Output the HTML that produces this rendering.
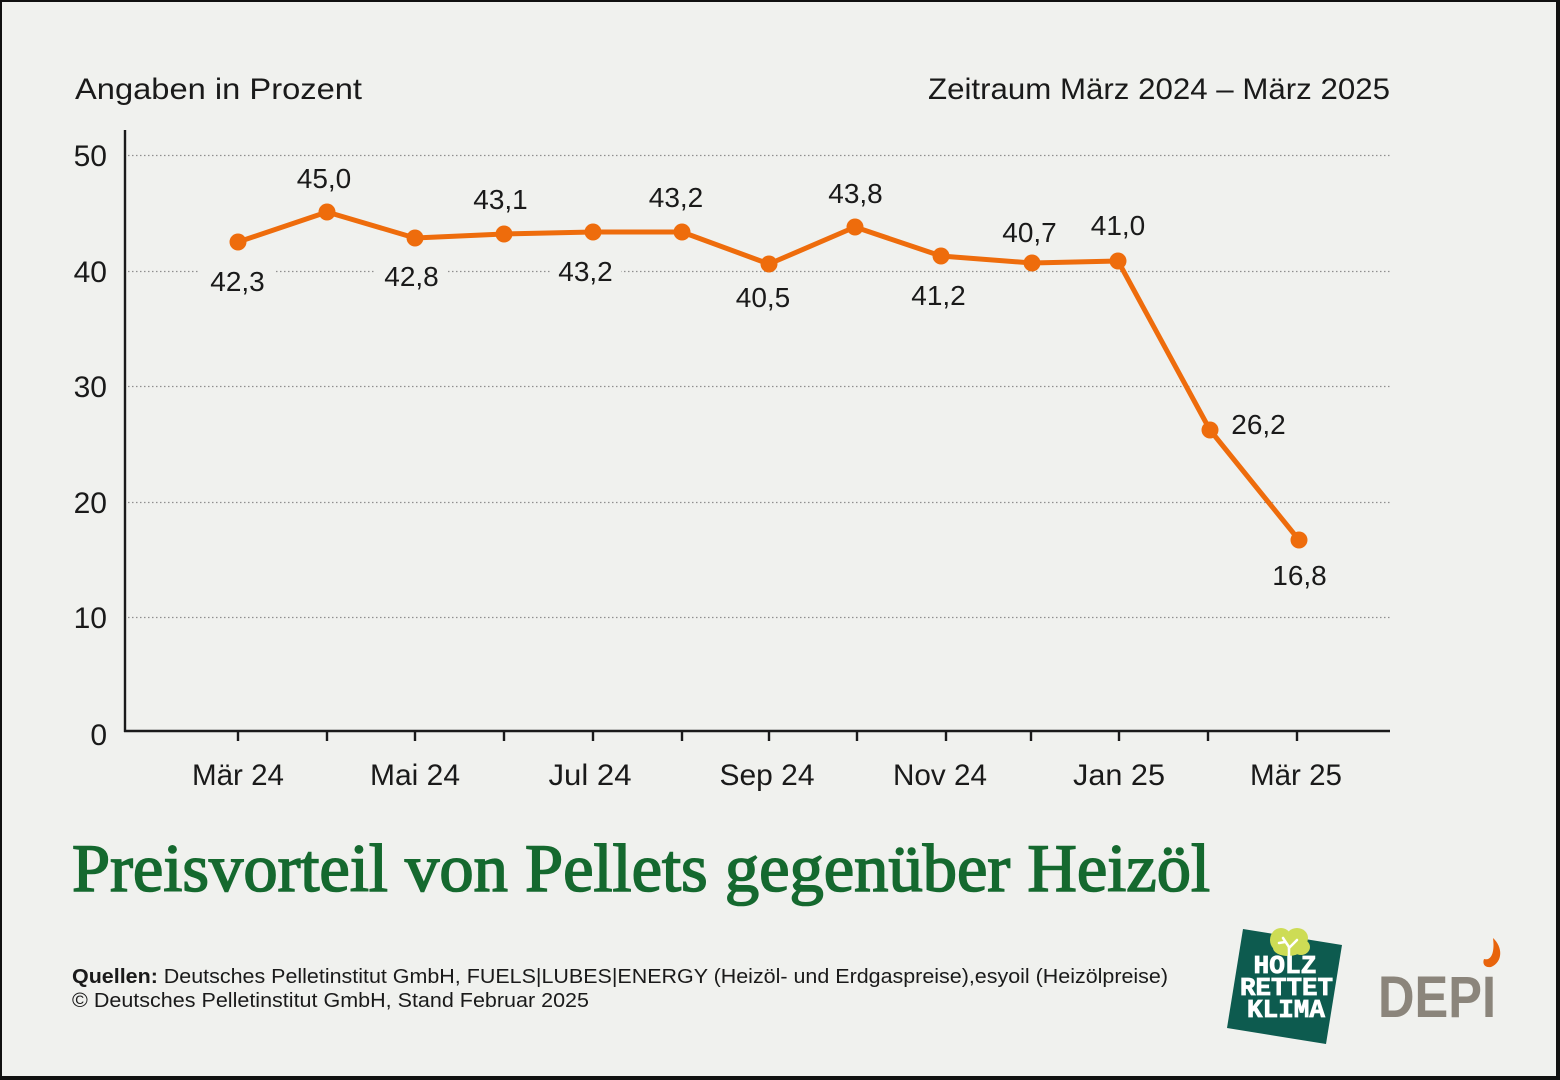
<!DOCTYPE html>
<html><head><meta charset="utf-8">
<style>
html,body{margin:0;padding:0;background:#f0f1ee;}
svg{display:block;}
</style></head>
<body>
<svg width="1560" height="1080" viewBox="0 0 1560 1080" xmlns="http://www.w3.org/2000/svg">
<rect x="0" y="0" width="1560" height="1080" fill="#f0f1ee"/>
<!-- border -->
<rect x="0" y="0" width="1560" height="2" fill="#111"/>
<rect x="0" y="0" width="2" height="1080" fill="#111"/>
<rect x="1556" y="0" width="4" height="1080" fill="#111"/>
<rect x="0" y="1076" width="1560" height="4" fill="#111"/>

<g font-family="Liberation Sans, sans-serif" fill="#1a1a1a">
<text x="75" y="99" font-size="30" textLength="287" lengthAdjust="spacingAndGlyphs">Angaben in Prozent</text>
<text x="928" y="99" font-size="30" textLength="462" lengthAdjust="spacingAndGlyphs">Zeitraum März 2024 – März 2025</text>
</g>

<!-- gridlines -->
<g stroke="#8f8f8f" stroke-width="1.2" stroke-dasharray="1.5 2.5">
<line x1="128" y1="155.5" x2="1391" y2="155.5"/>
<line x1="128" y1="271.5" x2="1391" y2="271.5"/>
<line x1="128" y1="386.5" x2="1391" y2="386.5"/>
<line x1="128" y1="502.5" x2="1391" y2="502.5"/>
<line x1="128" y1="617.5" x2="1391" y2="617.5"/>
</g>
<!-- label backgrounds breaking gridline -->
<g fill="#f0f1ee">
<rect x="200" y="263" width="75" height="17"/>
<rect x="376" y="263" width="71" height="17"/>
<rect x="550" y="263" width="71" height="17"/>
</g>

<!-- axes -->
<g stroke="#1a1a1a" stroke-width="2.4">
<line x1="125" y1="130" x2="125" y2="732"/>
<line x1="124" y1="731" x2="1390" y2="731"/>
<line x1="238" y1="731" x2="238" y2="741"/>
<line x1="327" y1="731" x2="327" y2="741"/>
<line x1="415" y1="731" x2="415" y2="741"/>
<line x1="504" y1="731" x2="504" y2="741"/>
<line x1="593" y1="731" x2="593" y2="741"/>
<line x1="682" y1="731" x2="682" y2="741"/>
<line x1="769" y1="731" x2="769" y2="741"/>
<line x1="857" y1="731" x2="857" y2="741"/>
<line x1="946" y1="731" x2="946" y2="741"/>
<line x1="1031" y1="731" x2="1031" y2="741"/>
<line x1="1119" y1="731" x2="1119" y2="741"/>
<line x1="1208" y1="731" x2="1208" y2="741"/>
<line x1="1297" y1="731" x2="1297" y2="741"/>
</g>

<!-- y tick labels -->
<g font-family="Liberation Sans, sans-serif" font-size="30" fill="#1a1a1a" text-anchor="end">
<text x="107" y="166">50</text>
<text x="107" y="282">40</text>
<text x="107" y="397">30</text>
<text x="107" y="513">20</text>
<text x="107" y="628">10</text>
<text x="107" y="745">0</text>
</g>

<!-- x labels -->
<g font-family="Liberation Sans, sans-serif" font-size="30" fill="#1a1a1a" text-anchor="middle">
<text x="238" y="785" textLength="92" lengthAdjust="spacingAndGlyphs">Mär 24</text>
<text x="415" y="785" textLength="90" lengthAdjust="spacingAndGlyphs">Mai 24</text>
<text x="590" y="785" textLength="83" lengthAdjust="spacingAndGlyphs">Jul 24</text>
<text x="767" y="785" textLength="95" lengthAdjust="spacingAndGlyphs">Sep 24</text>
<text x="940" y="785" textLength="94" lengthAdjust="spacingAndGlyphs">Nov 24</text>
<text x="1119" y="785" textLength="92" lengthAdjust="spacingAndGlyphs">Jan 25</text>
<text x="1296" y="785" textLength="92" lengthAdjust="spacingAndGlyphs">Mär 25</text>
</g>

<!-- series -->
<polyline fill="none" stroke="#ee6c0c" stroke-width="5" stroke-linejoin="round"
 points="238,242 327,212 415,238 504,234 593,232 682,232 769,264 855,227 941,256 1032,263 1118,261 1210,430 1299,540"/>
<g fill="#ee6c0c">
<circle cx="238" cy="242" r="8.5"/>
<circle cx="327" cy="212" r="8.5"/>
<circle cx="415" cy="238" r="8.5"/>
<circle cx="504" cy="234" r="8.5"/>
<circle cx="593" cy="232" r="8.5"/>
<circle cx="682" cy="232" r="8.5"/>
<circle cx="769" cy="264" r="8.5"/>
<circle cx="855" cy="227" r="8.5"/>
<circle cx="941" cy="256" r="8.5"/>
<circle cx="1032" cy="263" r="8.5"/>
<circle cx="1118" cy="261" r="8.5"/>
<circle cx="1210" cy="430" r="8.5"/>
<circle cx="1299" cy="540" r="8.5"/>
</g>

<!-- data labels -->
<g font-family="Liberation Sans, sans-serif" font-size="28" fill="#1a1a1a" text-anchor="middle">
<text x="237.5" y="291">42,3</text>
<text x="324" y="188">45,0</text>
<text x="411.5" y="286">42,8</text>
<text x="500.5" y="209">43,1</text>
<text x="585.5" y="281">43,2</text>
<text x="676" y="207">43,2</text>
<text x="763" y="307">40,5</text>
<text x="855.5" y="203">43,8</text>
<text x="938.5" y="305">41,2</text>
<text x="1029.5" y="242">40,7</text>
<text x="1118" y="235">41,0</text>
<text x="1258.5" y="434">26,2</text>
<text x="1299.5" y="585">16,8</text>
</g>

<!-- title -->
<text x="72" y="891" font-family="Liberation Serif, serif" font-size="68" fill="#15692f" stroke="#15692f" stroke-width="1.6" textLength="1138" lengthAdjust="spacingAndGlyphs">Preisvorteil von Pellets gegenüber Heizöl</text>

<!-- footer -->
<g font-family="Liberation Sans, sans-serif" font-size="20" fill="#1a1a1a">
<text x="72" y="983" textLength="1096" lengthAdjust="spacingAndGlyphs"><tspan font-weight="bold">Quellen:</tspan> Deutsches Pelletinstitut GmbH, FUELS|LUBES|ENERGY (Heizöl- und Erdgaspreise),esyoil (Heizölpreise)</text>
<text x="72" y="1007" textLength="517" lengthAdjust="spacingAndGlyphs">© Deutsches Pelletinstitut GmbH, Stand Februar 2025</text>
</g>

<!-- HOLZ RETTET KLIMA logo -->
<polygon points="1243,929 1342,945 1326,1044 1227,1028" fill="#0d5b4f"/>
<g fill="#cddc55">
<ellipse cx="1281" cy="940" rx="11" ry="12"/>
<ellipse cx="1297" cy="938" rx="11" ry="10"/>
<ellipse cx="1301" cy="947" rx="9" ry="8"/>
<ellipse cx="1288" cy="948" rx="15" ry="8"/>
</g>
<g stroke="#ffffff" stroke-width="2.5" fill="none" stroke-linecap="round">
<path d="M1289,957 L1289,947 L1283,938"/>
<path d="M1289,948 L1297,940"/>
<path d="M1285,942 L1279,943"/>
</g>
<g font-family="Liberation Mono, monospace" font-weight="bold" font-size="26" fill="#ffffff" stroke="#ffffff" stroke-width="0.8" text-anchor="middle">
<text x="1285" y="973" textLength="63" lengthAdjust="spacingAndGlyphs">HOLZ</text>
<text x="1286.5" y="995" textLength="93" lengthAdjust="spacingAndGlyphs">RETTET</text>
<text x="1286" y="1017" textLength="78" lengthAdjust="spacingAndGlyphs">KLIMA</text>
</g>

<!-- DEPI logo -->
<text x="1378" y="1017" font-family="Liberation Sans, sans-serif" font-weight="bold" font-size="58" fill="#8b857b" textLength="118" lengthAdjust="spacingAndGlyphs">DEPI</text>
<path d="M1493,938 C1503,947 1503,962 1491,967 C1485,968 1482,964 1484,959 C1491,961 1495,953 1493,938 Z" fill="#e8640c"/>
</svg>
</body></html>
